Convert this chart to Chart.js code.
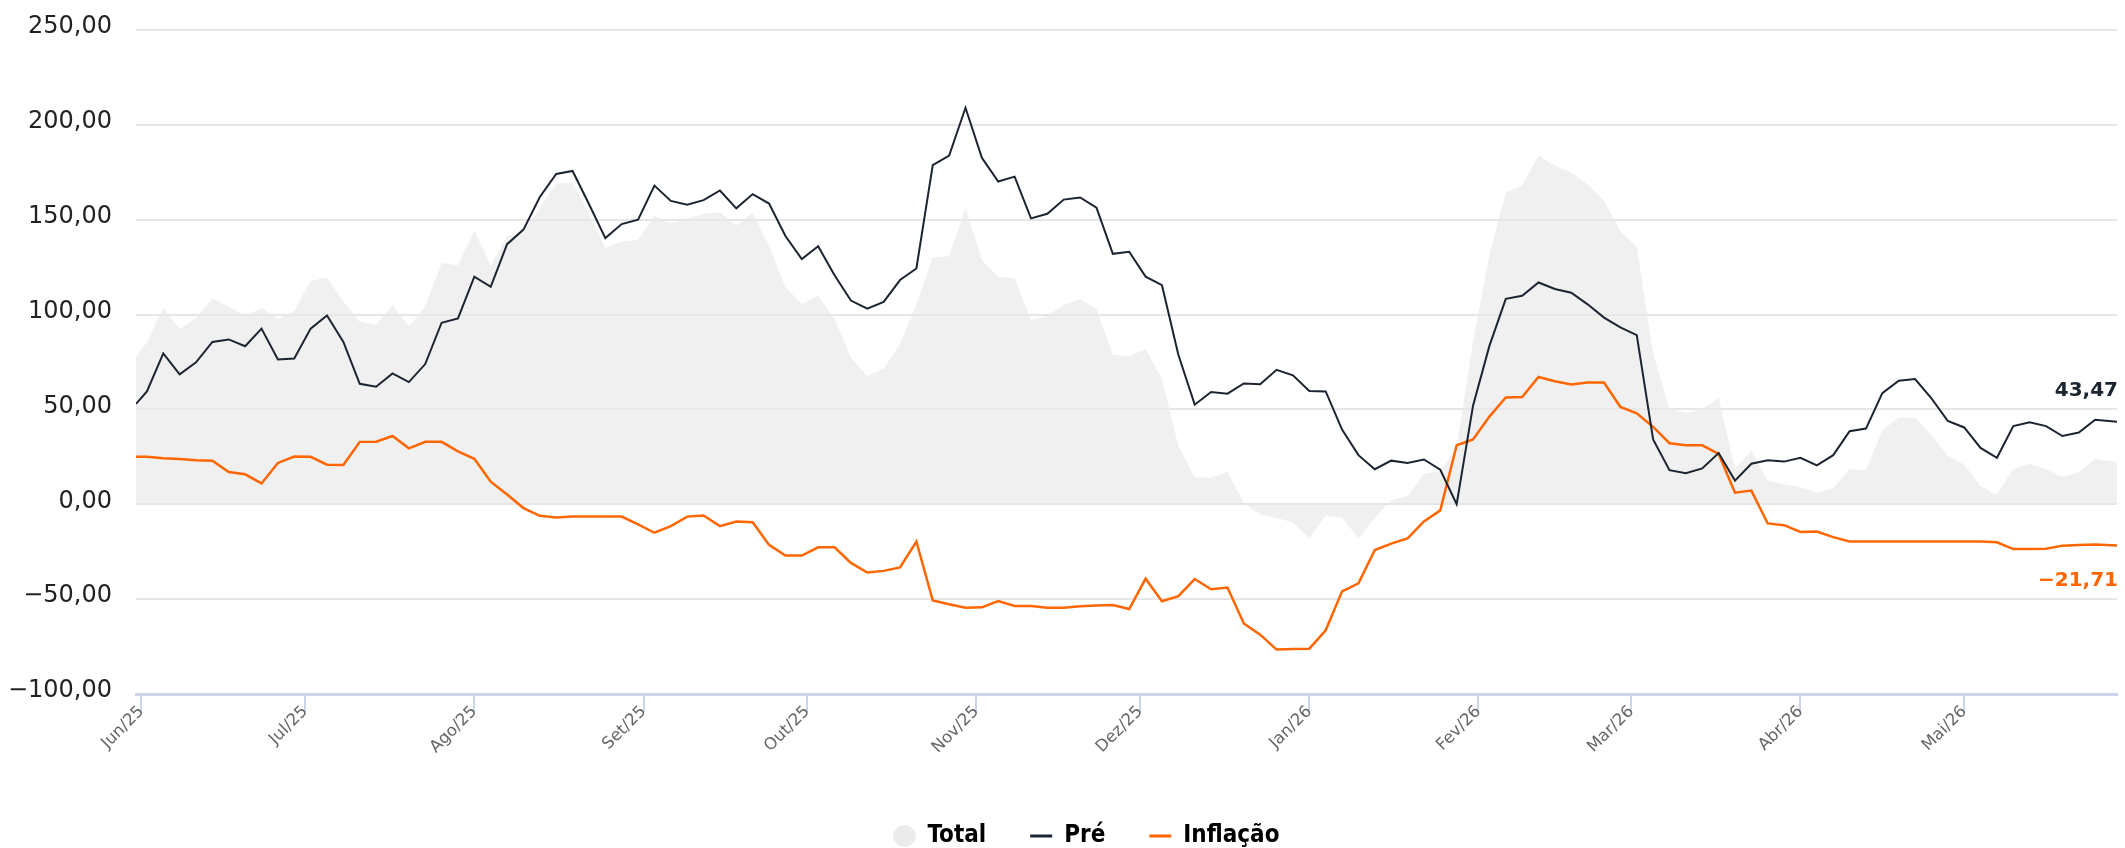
<!DOCTYPE html>
<html>
<head>
<meta charset="utf-8">
<script src="https://cdn.jsdelivr.net/npm/chart.js@4.4.1/dist/chart.umd.min.js"></script>
<style>
html,body{margin:0;padding:0;background:#ffffff;}
#wrap{width:2125px;height:848px;}
canvas{display:block;}
</style>
</head>
<body>
<div id="wrap"><canvas id="c" width="2125" height="848"></canvas></div>
<script>
// ---- Data ----
const dates = [
 '2025-05-31','2025-06-02','2025-06-05','2025-06-08','2025-06-11','2025-06-14','2025-06-17','2025-06-20','2025-06-23','2025-06-26',
 '2025-06-29','2025-07-02','2025-07-05','2025-07-08','2025-07-11','2025-07-14','2025-07-17','2025-07-20','2025-07-23','2025-07-26',
 '2025-07-29','2025-08-01','2025-08-04','2025-08-07','2025-08-10','2025-08-13','2025-08-16','2025-08-19','2025-08-22','2025-08-25',
 '2025-08-28','2025-08-31','2025-09-03','2025-09-06','2025-09-09','2025-09-12','2025-09-15','2025-09-18','2025-09-21','2025-09-24',
 '2025-09-27','2025-09-30','2025-10-03','2025-10-06','2025-10-09','2025-10-12','2025-10-15','2025-10-18','2025-10-21','2025-10-24',
 '2025-10-27','2025-10-30','2025-11-02','2025-11-05','2025-11-08','2025-11-11','2025-11-14','2025-11-17','2025-11-20','2025-11-23',
 '2025-11-26','2025-11-29','2025-12-02','2025-12-05','2025-12-08','2025-12-11','2025-12-14','2025-12-17','2025-12-20','2025-12-23',
 '2025-12-26','2025-12-29','2026-01-01','2026-01-04','2026-01-07','2026-01-10','2026-01-13','2026-01-16','2026-01-19','2026-01-22',
 '2026-01-25','2026-01-28','2026-01-31','2026-02-03','2026-02-06','2026-02-09','2026-02-12','2026-02-15','2026-02-18','2026-02-21',
 '2026-02-24','2026-02-27','2026-03-02','2026-03-05','2026-03-08','2026-03-11','2026-03-14','2026-03-17','2026-03-20','2026-03-23',
 '2026-03-26','2026-03-29','2026-04-01','2026-04-04','2026-04-07','2026-04-10','2026-04-13','2026-04-16','2026-04-19','2026-04-22',
 '2026-04-25','2026-04-28','2026-05-01','2026-05-04','2026-05-07','2026-05-10','2026-05-13','2026-05-16','2026-05-19','2026-05-22',
 '2026-05-25','2026-05-29'
];

const totalValues = [
 77.7,85.4,103.6,92.3,98.3,108.3,104.3,99.3,103.4,97.5,
 102.0,117.8,119.4,107.0,96.2,94.6,105.0,93.7,104.3,127.2,
 126.0,144.0,125.9,141.6,143.5,156.1,168.9,169.6,153.6,135.0,
 138.5,139.4,152.0,148.0,150.7,153.1,153.8,147.0,153.8,136.2,
 114.4,105.6,110.0,97.5,77.2,67.6,71.4,84.5,105.4,130.2,
 130.8,156.0,128.6,120.0,119.0,97.3,99.3,105.2,108.1,102.9,
 79.0,77.9,82.0,66.0,30.9,14.2,14.0,17.0,0.7,-5.4,
 -7.2,-9.5,-18.0,-6.0,-7.0,-18.0,-7.2,2.3,4.3,16.0,
 17.3,30.0,86.0,131.5,164.2,168.0,183.8,178.4,174.8,168.5,
 160.1,143.9,135.8,79.5,50.2,48.0,50.2,56.0,18.7,28.1,
 12.4,10.6,9.0,6.1,8.6,18.5,18.0,39.0,45.7,45.7,
 36.3,25.4,20.9,9.7,5.2,18.7,21.4,18.5,14.4,16.7,
 23.9,22.1
];

const preValues = [
 52.9,59.5,79.5,68.5,74.8,85.6,86.9,83.3,92.6,76.3,
 76.8,92.6,99.5,85.6,63.5,62.0,69.0,64.4,73.9,95.7,
 98.0,120.0,114.6,137.1,144.8,162.0,174.1,175.7,158.3,140.3,
 147.7,150.0,168.0,159.9,157.9,160.3,165.4,156.0,163.5,158.5,
 141.4,129.3,136.0,120.7,107.4,103.1,106.7,118.2,124.3,178.8,
 183.8,209.0,182.6,170.1,172.7,150.7,153.1,160.6,161.7,156.3,
 132.0,133.1,120.0,115.5,78.8,52.5,59.2,58.3,63.7,63.3,
 70.9,68.0,59.7,59.5,39.4,25.9,18.5,23.0,21.8,23.6,
 18.2,0.0,52.0,83.5,108.3,109.9,116.9,113.5,111.5,105.4,
 98.4,93.2,89.2,34.2,18.0,16.4,18.9,27.0,12.5,21.4,
 23.2,22.5,24.5,20.5,25.9,38.5,39.9,58.6,65.1,66.0,
 55.8,43.9,40.5,29.7,24.5,41.2,43.2,41.2,36.0,37.8,
 44.6,43.47
];

const inflacaoValues = [
 25.0,25.0,24.3,23.9,23.2,23.0,17.0,15.8,11.0,21.8,
 25.2,25.0,20.9,20.7,32.9,33.0,36.0,29.5,32.9,32.9,
 27.9,24.0,11.9,5.2,-2.0,-6.1,-7.0,-6.5,-6.5,-6.5,
 -6.5,-10.6,-15.0,-11.5,-6.5,-5.9,-11.5,-9.1,-9.5,-21.4,
 -27.0,-27.0,-22.7,-22.7,-30.9,-36.0,-35.1,-33.3,-19.6,-50.7,
 -52.7,-54.5,-54.3,-51.0,-53.6,-53.6,-54.5,-54.5,-53.8,-53.4,
 -53.1,-55.2,-39.2,-51.1,-48.4,-39.4,-44.8,-43.9,-62.8,-68.7,
 -76.6,-76.3,-76.1,-66.4,-45.9,-41.7,-24.1,-20.7,-18.0,-9.0,
 -3.2,31.1,34.2,46.2,56.3,56.5,67.1,64.9,63.1,64.2,
 64.2,51.3,48.0,40.8,32.2,31.1,31.1,26.5,6.1,7.2,
 -10.1,-11.0,-14.6,-14.4,-17.3,-19.6,-19.6,-19.6,-19.6,-19.6,
 -19.6,-19.6,-19.6,-19.6,-20.0,-23.6,-23.6,-23.4,-21.8,-21.4,
 -21.2,-21.71
];

const monthTickDates = ['2025-06-01','2025-07-01','2025-08-01','2025-09-01','2025-10-01','2025-11-01',
                        '2025-12-01','2026-01-01','2026-02-01','2026-03-01','2026-04-01','2026-05-01'];
const monthTickLabels = ['Jun/25','Jul/25','Ago/25','Set/25','Out/25','Nov/25',
                         'Dez/25','Jan/26','Fev/26','Mar/26','Abr/26','Mai/26'];
const yTickValues = [-100,-50,0,50,100,150,200,250];
const seriesNames = ['Total','Pré','Inflação'];

// ---- helpers ----
function dayNum(s){ const p = s.split('-').map(Number); return Date.UTC(p[0],p[1]-1,p[2]) / 86400000; }
function fmt(v){ return (v < 0 ? '\u2212' : '') + Math.abs(v).toFixed(2).replace('.', ','); }
function pts(vals){ return dates.map((d,i)=>({x: dayNum(d), y: vals[i]})); }

const COLOR_PRE = '#1b2430';
const COLOR_INF = '#ff6600';
const COLOR_TOTAL = 'rgba(232,232,232,0.65)';

const endLabels = {
  id: 'endLabels',
  afterDatasetsDraw(chart){
    const ctx = chart.ctx;
    [[1,-31,COLOR_PRE],[2,35,COLOR_INF]].forEach(([i,dy,color])=>{
      const meta = chart.getDatasetMeta(i);
      const last = meta.data.length - 1;
      const p = meta.data[last];
      const v = chart.data.datasets[i].data[last].y;
      ctx.save();
      ctx.font = 'bold 20px "DejaVu Sans"';
      ctx.fillStyle = color;
      ctx.textAlign = 'right';
      ctx.textBaseline = 'middle';
      ctx.fillText(fmt(v), p.x + 1, p.y + dy);
      ctx.restore();
    });
  }
};

const legendShift = {
  id: 'legendShift',
  afterLayout(chart){
    const lg = chart.legend;
    const pad = lg.options.labels.padding;
    const fs = lg.options.labels.font.size;
    const dy = 836 - (lg.top + pad + fs/2);
    lg.top += dy; lg.bottom += dy;
    lg.left += 28; lg.right += 28;
  }
};

Chart.defaults.font.family = '"DejaVu Sans", sans-serif';

new Chart(document.getElementById('c'), {
  type: 'line',
  data: {
    datasets: [
      { label: seriesNames[0], data: pts(totalValues), fill: 'origin', backgroundColor: COLOR_TOTAL,
        borderColor: 'rgba(0,0,0,0)', borderWidth: 0, pointRadius: 0, tension: 0, order: 3 },
      { label: seriesNames[1], data: pts(preValues), fill: false, borderColor: COLOR_PRE, backgroundColor: COLOR_PRE,
        borderWidth: 2, pointRadius: 0, tension: 0, order: 1 },
      { label: seriesNames[2], data: pts(inflacaoValues), fill: false, borderColor: COLOR_INF, backgroundColor: COLOR_INF,
        borderWidth: 2.5, pointRadius: 0, tension: 0, order: 2 }
    ]
  },
  options: {
    responsive: false,
    animation: false,
    devicePixelRatio: 1,
    layout: { padding: { left: 0, right: 8, top: 30, bottom: 0 } },
    plugins: {
      tooltip: { enabled: false },
      legend: {
        position: 'bottom',
        labels: {
          usePointStyle: true,
          boxHeight: 15,
          pointStyleWidth: 22,
          padding: 44,
          color: '#000000',
          font: { family: '"Liberation Sans Narrow", "DejaVu Sans Condensed", "Roboto Condensed", sans-serif', size: 24, weight: 'bold' },
          generateLabels(chart){
            return chart.data.datasets.map((ds,i)=>({
              text: ds.label,
              fillStyle: i === 0 ? '#ebebeb' : ds.borderColor,
              strokeStyle: i === 0 ? '#ebebeb' : ds.borderColor,
              lineWidth: i === 0 ? 1 : 3,
              pointStyle: i === 0 ? 'circle' : 'line',
              hidden: false,
              datasetIndex: i,
              fontColor: '#000000'
            }));
          }
        }
      }
    },
    scales: {
      x: {
        type: 'linear',
        min: dayNum(dates[0]),
        max: dayNum(dates[dates.length-1]),
        afterBuildTicks(scale){ scale.ticks = monthTickDates.map(d=>({value: dayNum(d)})); },
        afterFit(scale){ scale.height = 76; },
        grid: { display: true, drawOnChartArea: false, drawTicks: true, tickLength: 18, color: '#ccd6eb', lineWidth: 2 },
        border: { display: true, color: '#ccd6eb', width: 3 },
        ticks: {
          autoSkip: false, maxRotation: 45, minRotation: 45, padding: -10,
          color: '#666666', font: { size: 16.5 },
          callback(value, index){ return monthTickLabels[index]; }
        }
      },
      y: {
        type: 'linear',
        min: -100, max: 250,
        afterBuildTicks(scale){ scale.ticks = yTickValues.map(v=>({value: v})); },
        afterFit(scale){ scale.width = 136; scale.paddingTop = 0; scale.paddingBottom = 0; },
        grid: { color: '#e6e6e6', lineWidth: 2, drawTicks: false },
        border: { display: false },
        ticks: { padding: 24, labelOffset: -3, color: '#222222', font: { size: 24 }, callback(v){ return fmt(v); } }
      }
    }
  },
  plugins: [endLabels, legendShift]
});
</script>
</body>
</html>
